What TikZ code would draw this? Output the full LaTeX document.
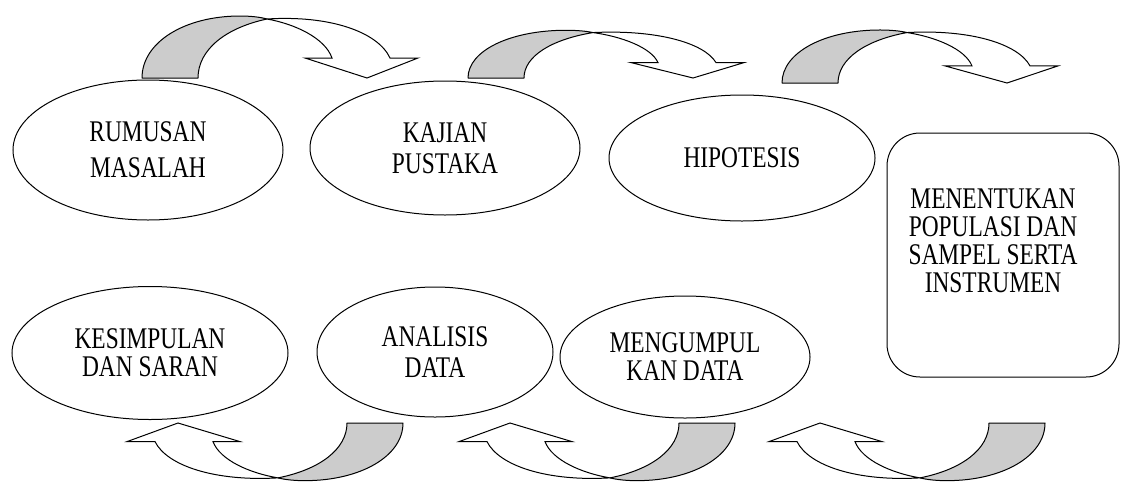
\documentclass[tikz,border=0pt]{standalone}
\usepackage{fontspec}
\setmainfont{Liberation Serif}[FakeStretch=0.78]
\usetikzlibrary{shapes.geometric}

\begin{document}
\begin{tikzpicture}
			[x=1pt,y=-1pt,
			 every node/.style={font=\fontsize{30}{31}\selectfont,align=center},
			 stage/.style={ellipse,draw,line width=1pt,inner sep=0pt},
			 box/.style={rectangle,draw,line width=1pt,rounded corners=33pt},
			 back/.style={draw,line width=1pt,fill=gray!40,line join=round},
			 front/.style={draw,line width=1pt,fill=white}]
			\useasboundingbox (0,0) rectangle (1123,482);

			\node (rumusan) [stage,minimum width=270,minimum height=140,font=\fontsize{30}{36}\selectfont] at (148,150) {RUMUSAN\\MASALAH};
			\node (kajian) [stage,minimum width=270,minimum height=134] at (445,148) {KAJIAN\\PUSTAKA};
			\node (hipotesis) [stage,minimum width=266,minimum height=126] at (742,158) {HIPOTESIS};
			\node (populasi) [box,minimum width=232,minimum height=244] at (1003,255) {};
			\node (populasitext) [font=\fontsize{30}{28}\selectfont] at (993,241) {MENENTUKAN\\POPULASI DAN\\SAMPEL SERTA\\INSTRUMEN};
			\node (mengumpul) [stage,minimum width=250,minimum height=122,font=\fontsize{30}{28}\selectfont] at (685,357) {MENGUMPUL\\KAN DATA};
			\node (analisis) [stage,minimum width=236,minimum height=130] at (435,352) {ANALISIS\\DATA};
			\node (kesimpulan) [stage,minimum width=276,minimum height=133,font=\fontsize{30}{28}\selectfont] at (150,353) {KESIMPULAN\\DAN SARAN};

			% curved arrows, top row
			\begin{scope}[shift={(142,78)}]
			  \draw [back] (0,0) .. controls (0,-36) and (43,-62) .. (98,-62)
			    .. controls (108,-62) and (118,-61) .. (125,-59)
			    .. controls (83,-50) and (56,-28) .. (56,0) -- cycle;
			  \draw [front] (125,-59) .. controls (153,-54) and (183,-40) .. (190,-20)
			    -- (163,-20) -- (225,0) -- (276,-20) -- (248,-20)
			    .. controls (236,-46) and (188,-63) .. (125,-59) -- cycle;
			\end{scope}
			\begin{scope}[shift={(468,78)},yscale=0.77]
			  \draw [back] (0,0) .. controls (0,-36) and (43,-62) .. (98,-62)
			    .. controls (108,-62) and (118,-61) .. (125,-59)
			    .. controls (83,-50) and (56,-28) .. (56,0) -- cycle;
			  \draw [front] (125,-59) .. controls (153,-54) and (183,-40) .. (190,-20)
			    -- (163,-20) -- (225,0) -- (276,-20) -- (248,-20)
			    .. controls (236,-46) and (188,-63) .. (125,-59) -- cycle;
			\end{scope}
			\begin{scope}[shift={(782,83)},yscale=0.855]
			  \draw [back] (0,0) .. controls (0,-36) and (43,-62) .. (98,-62)
			    .. controls (108,-62) and (118,-61) .. (125,-59)
			    .. controls (83,-50) and (56,-28) .. (56,0) -- cycle;
			  \draw [front] (125,-59) .. controls (153,-54) and (183,-40) .. (190,-20)
			    -- (163,-20) -- (225,0) -- (276,-20) -- (248,-20)
			    .. controls (236,-46) and (188,-63) .. (125,-59) -- cycle;
			\end{scope}

			% curved arrows, bottom row
			\begin{scope}[shift={(403,423)},rotate=180,yscale=0.93]
			  \draw [back] (0,0) .. controls (0,-36) and (43,-62) .. (98,-62)
			    .. controls (108,-62) and (118,-61) .. (125,-59)
			    .. controls (83,-50) and (56,-28) .. (56,0) -- cycle;
			  \draw [front] (125,-59) .. controls (153,-54) and (183,-40) .. (190,-20)
			    -- (163,-20) -- (225,0) -- (276,-20) -- (248,-20)
			    .. controls (236,-46) and (188,-63) .. (125,-59) -- cycle;
			\end{scope}
			\begin{scope}[shift={(735,423)},rotate=180,yscale=0.93]
			  \draw [back] (0,0) .. controls (0,-36) and (43,-62) .. (98,-62)
			    .. controls (108,-62) and (118,-61) .. (125,-59)
			    .. controls (83,-50) and (56,-28) .. (56,0) -- cycle;
			  \draw [front] (125,-59) .. controls (153,-54) and (183,-40) .. (190,-20)
			    -- (163,-20) -- (225,0) -- (276,-20) -- (248,-20)
			    .. controls (236,-46) and (188,-63) .. (125,-59) -- cycle;
			\end{scope}
			\begin{scope}[shift={(1045,423)},rotate=180,yscale=0.93]
			  \draw [back] (0,0) .. controls (0,-36) and (43,-62) .. (98,-62)
			    .. controls (108,-62) and (118,-61) .. (125,-59)
			    .. controls (83,-50) and (56,-28) .. (56,0) -- cycle;
			  \draw [front] (125,-59) .. controls (153,-54) and (183,-40) .. (190,-20)
			    -- (163,-20) -- (225,0) -- (276,-20) -- (248,-20)
			    .. controls (236,-46) and (188,-63) .. (125,-59) -- cycle;
			\end{scope}
		\end{tikzpicture}
\end{document}
